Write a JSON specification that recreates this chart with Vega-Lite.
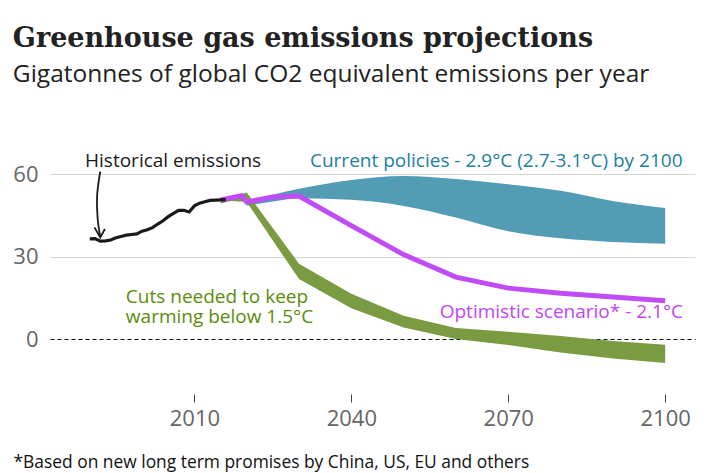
{
  "$schema": "https://vega.github.io/schema/vega-lite/v6.json",
  "width": 645,
  "height": 220,
  "autosize": "none",
  "padding": {"left": 50, "top": 174, "right": 18, "bottom": 79},
  "background": "white",
  "title": {
    "text": "Greenhouse gas emissions projections",
    "subtitle": "Gigatonnes of global CO2 equivalent emissions per year",
    "anchor": "start",
    "frame": "bounds",
    "offset": 64,
    "font": "DejaVu Serif",
    "fontSize": 27,
    "fontWeight": "bold",
    "color": "#222222",
    "subtitleFont": "Open Sans",
    "subtitleFontSize": 24.5,
    "subtitleColor": "#222222",
    "subtitlePadding": 10
  },
  "config": {"view": {"stroke": null}},
  "datasets": {
    "historical": [
      {"year": 1990, "value": 36.4}, {"year": 1991, "value": 36.5}, {"year": 1992, "value": 35.6},
      {"year": 1993, "value": 35.7}, {"year": 1994, "value": 36.0}, {"year": 1995, "value": 36.8},
      {"year": 1996, "value": 37.3}, {"year": 1997, "value": 37.8}, {"year": 1998, "value": 38.0},
      {"year": 1999, "value": 38.2}, {"year": 2000, "value": 39.2}, {"year": 2001, "value": 39.7},
      {"year": 2002, "value": 40.5}, {"year": 2003, "value": 41.8}, {"year": 2004, "value": 43.0},
      {"year": 2005, "value": 44.5}, {"year": 2006, "value": 45.7}, {"year": 2007, "value": 46.8},
      {"year": 2008, "value": 46.8}, {"year": 2009, "value": 46.2}, {"year": 2010, "value": 48.4},
      {"year": 2011, "value": 49.4}, {"year": 2012, "value": 49.9}, {"year": 2013, "value": 50.4},
      {"year": 2014, "value": 50.5}, {"year": 2015, "value": 50.6}, {"year": 2016, "value": 50.7}
    ],
    "current": [
      {"year": 2020, "value": 48.5, "hi": 49.8},
      {"year": 2025, "value": 50.0, "hi": 52.5},
      {"year": 2030, "value": 51.2, "hi": 54.6},
      {"year": 2040, "value": 50.6, "hi": 57.8},
      {"year": 2050, "value": 48.4, "hi": 59.3},
      {"year": 2060, "value": 44.2, "hi": 58.2},
      {"year": 2070, "value": 39.2, "hi": 56.3},
      {"year": 2080, "value": 36.6, "hi": 53.9},
      {"year": 2090, "value": 35.3, "hi": 50.2},
      {"year": 2100, "value": 34.6, "hi": 47.6}
    ],
    "cuts": [
      {"year": 2015, "value": 49.3, "hi": 50.3},
      {"year": 2017, "value": 50.2, "hi": 51.5},
      {"year": 2020, "value": 49.8, "hi": 53.3},
      {"year": 2030, "value": 21.8, "hi": 27.4},
      {"year": 2040, "value": 11.2, "hi": 16.5},
      {"year": 2050, "value": 4.2, "hi": 8.5},
      {"year": 2060, "value": 0.0, "hi": 4.0},
      {"year": 2070, "value": -2.2, "hi": 2.6},
      {"year": 2080, "value": -4.9, "hi": 1.1},
      {"year": 2090, "value": -7.1, "hi": -0.7},
      {"year": 2100, "value": -8.7, "hi": -2.1}
    ],
    "optimistic": [
      {"year": 2015, "value": 50.6}, {"year": 2019, "value": 52.1}, {"year": 2020, "value": 49.8},
      {"year": 2025, "value": 51.6}, {"year": 2030, "value": 52.0}, {"year": 2040, "value": 41.2},
      {"year": 2050, "value": 30.7}, {"year": 2060, "value": 22.5}, {"year": 2070, "value": 18.5},
      {"year": 2080, "value": 16.6}, {"year": 2090, "value": 15.3}, {"year": 2100, "value": 13.9}
    ],
    "arrowShaft": [
      {"i": 1, "year": 1992.0, "value": 60.9},
      {"i": 2, "year": 1991.4, "value": 52.0},
      {"i": 3, "year": 1991.5, "value": 44.0},
      {"i": 4, "year": 1992.0, "value": 37.2}
    ],
    "arrowHead": [
      {"i": 1, "year": 1990.9, "value": 40.6},
      {"i": 2, "year": 1992.0, "value": 36.9},
      {"i": 3, "year": 1992.9, "value": 40.0}
    ],
    "labels": [
      {"series": "historical", "text": "Historical emissions", "year": 1989.1, "value": 62.6},
      {"series": "current", "text": "Current policies - 2.9°C (2.7-3.1°C) by 2100", "year": 2032.1, "value": 62.6},
      {"series": "cuts", "text": "Cuts needed to keep\nwarming below 1.5°C", "year": 1996.9, "value": 13.1},
      {"series": "optimistic", "text": "Optimistic scenario* - 2.1°C", "year": 2056.9, "value": 7.6}
    ]
  },
  "encoding": {
    "x": {
      "field": "year",
      "type": "quantitative",
      "scale": {"domain": [1982.4, 2105.7], "nice": false, "zero": false},
      "axis": {
        "values": [2010, 2040, 2070, 2100],
        "format": "d",
        "grid": false,
        "domain": false,
        "tickSize": 8,
        "tickColor": "#444444",
        "labelFont": "Open Sans",
        "labelFontSize": 22,
        "labelColor": "#666666",
        "labelPadding": 6,
        "title": "*Based on new long term promises by China, US, EU and others",
        "titleFont": "Open Sans",
        "titleFontSize": 17.4,
        "titleFontWeight": "normal",
        "titleColor": "#111111",
        "titleAnchor": "start",
        "titleAlign": "left",
        "titleBaseline": "middle",
        "titleX": -37,
        "titleY": 68
      }
    },
    "y": {
      "field": "value",
      "type": "quantitative",
      "scale": {"domain": [-20, 60], "nice": false, "zero": false},
      "axis": {
        "values": [0, 30, 60],
        "domain": false,
        "ticks": false,
        "title": null,
        "labelFont": "Open Sans",
        "labelFontSize": 22,
        "labelColor": "#666666",
        "labelPadding": 12,
        "gridWidth": 1,
        "gridColor": {"condition": {"test": "datum.value === 0", "value": "#000000"}, "value": "#d5d5d5"},
        "gridDash": {"condition": {"test": "datum.value === 0", "value": [4, 3]}, "value": []}
      }
    }
  },
  "layer": [
    {
      "data": {"name": "current"},
      "mark": {"type": "area", "color": "#529cb5", "interpolate": "monotone"},
      "encoding": {"y2": {"field": "hi"}}
    },
    {
      "data": {"name": "cuts"},
      "mark": {"type": "area", "color": "#7a9b41", "interpolate": "linear"},
      "encoding": {"y2": {"field": "hi"}}
    },
    {
      "data": {"name": "optimistic"},
      "mark": {"type": "line", "color": "#bf4cf7", "strokeWidth": 5},
      "encoding": {}
    },
    {
      "data": {"name": "historical"},
      "mark": {"type": "line", "color": "#1a1a1a", "strokeWidth": 3.2},
      "encoding": {}
    },
    {
      "data": {"name": "arrowShaft"},
      "mark": {"type": "line", "color": "#1a1a1a", "strokeWidth": 1.8, "interpolate": "catmull-rom"},
      "encoding": {"order": {"field": "i", "type": "quantitative"}}
    },
    {
      "data": {"name": "arrowHead"},
      "mark": {"type": "line", "color": "#1a1a1a", "strokeWidth": 1.8},
      "encoding": {"order": {"field": "i", "type": "quantitative"}}
    },
    {
      "data": {"name": "labels"},
      "mark": {"type": "text", "align": "left", "baseline": "alphabetic", "font": "Open Sans", "fontSize": 19, "lineBreak": "\n", "lineHeight": 20.5},
      "encoding": {
        "text": {"field": "text", "type": "nominal"},
        "color": {
          "field": "series",
          "type": "nominal",
          "scale": {"domain": ["historical", "current", "cuts", "optimistic"], "range": ["#1a1a1a", "#1b7fa0", "#5c8c0a", "#bf45f7"]},
          "legend": null
        }
      }
    }
  ]
}
